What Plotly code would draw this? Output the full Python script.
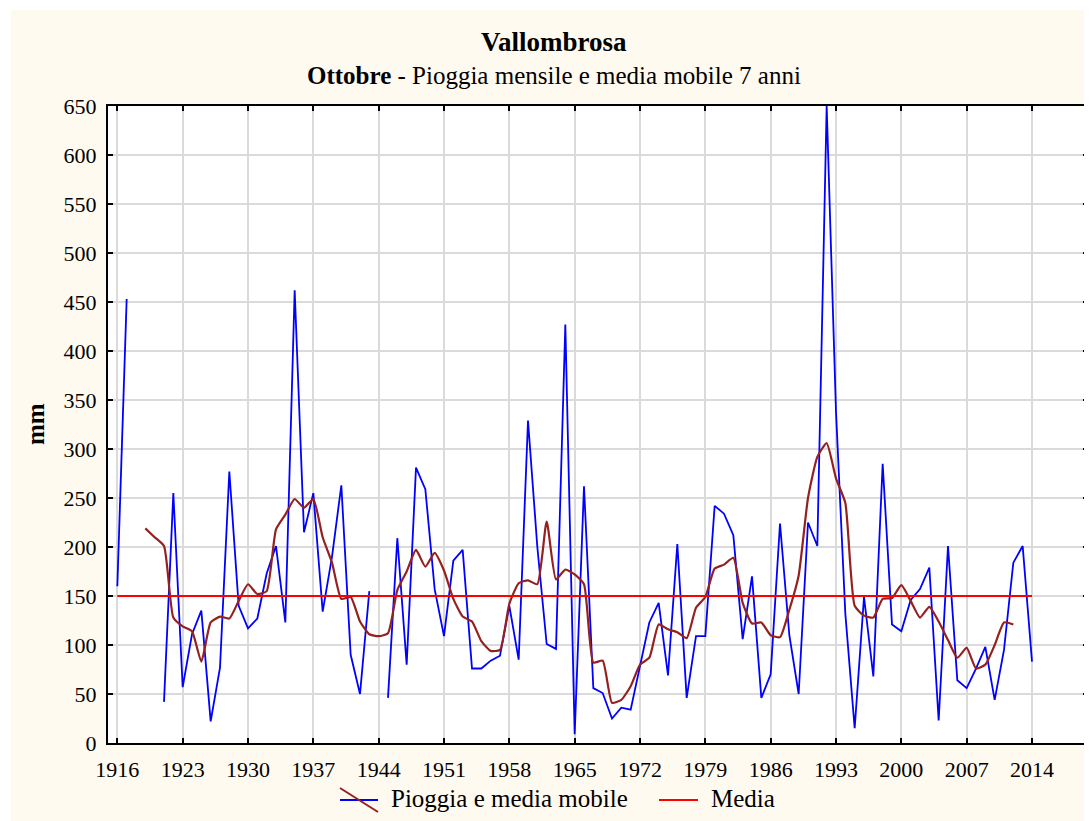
import plotly.graph_objects as go

# Ottobre, Vallombrosa: pioggia mensile (mm), 1916-2014 (None = dato mancante)
anni = list(range(1916, 2015))
pioggia = [
    160, 453, None, None, None, 42, 255, 57, 111, 135,
    22, 77, 277, 140, 117, 127, 173, 201, 123, 462,
    215, 255, 134, 190, 263, 90, 50, 155, None, 46,
    209, 80, 281, 259, 157, 109, 186, 197, 76, 76,
    84, 89, 140, 85, 329, 200, 101, 96, 427, 9,
    262, 56, 51, 25, 36, 34, 78, 123, 143, 69,
    203, 46, 109, 109, 242, 234, 212, 106, 170, 46,
    70, 224, 110, 50, 225, 201, 650, 338, 132, 15,
    149, 68, 285, 121, 114, 146, 157, 179, 23, 201,
    64, 56, 76, 98, 44, 95, 184, 201, 83,
]

# media mobile 7 anni, 1919-2012
anni_mm = list(range(1919, 2013))
media_mobile = [
    219, 210, 201, 128, 119, 114, 83, 123, 129, 127,
    145, 162, 152, 155, 218, 233, 249, 240, 249, 210,
    184, 147, 149, 124, 111, 109, 112, 156, 175, 197,
    180, 194, 176, 147, 129, 124, 104, 94, 95, 142,
    163, 166, 162, 226, 167, 177, 172, 162, 82, 84,
    41, 44, 58, 80, 87, 121, 116, 113, 107, 138,
    149, 178, 182, 189, 143, 122, 123, 110, 108, 136,
    171, 250, 292, 306, 270, 245, 140, 130, 128, 147,
    148, 161, 145, 128, 139, 124, 105, 87, 97, 76,
    80, 100, 123, 121,
]

media = 150
anni_media = [1916, 2014]

x_ticks = list(range(1916, 2015, 7))
y_ticks = list(range(0, 651, 50))

FONT = "Liberation Serif, Times New Roman, serif"
BLU = "#0000FF"
MARRONE = "#952020"
ROSSO = "#FF0000"
CREMA = "#FFFAF0"

# la pagina html ha 8px di margine: il grafico e' spostato di OFF
OFF = 8
W, H = 1092 - OFF, 821 - OFF
L, R, T, B = 100, 4, 98, 78
PW, PH = W - L - R, H - T - B


def px(x):
    # x in pixel della pagina -> coordinate paper
    return (x - OFF - L) / PW


def py(y):
    return (H - B - (y - OFF)) / PH


fig = go.Figure()

fig.add_trace(go.Scatter(x=anni, y=pioggia, mode="lines", connectgaps=False,
                         line=dict(color=BLU, width=1.8), name="Pioggia"))
fig.add_trace(go.Scatter(x=anni_mm, y=media_mobile, mode="lines",
                         line=dict(color=MARRONE, width=2.2, shape="spline", smoothing=0.5),
                         name="Media mobile"))
fig.add_trace(go.Scatter(x=anni_media, y=[media] * len(anni_media), mode="lines",
                         line=dict(color=ROSSO, width=1.8), name="Media"))

asse = dict(showline=True, linewidth=2, linecolor="black", mirror="ticks",
            ticks="inside", ticklen=5, tickwidth=2, tickcolor="black",
            showgrid=True, gridcolor="#DADADA", gridwidth=1.5, zeroline=False,
            tickfont=dict(family=FONT, size=22, color="black"), automargin=False)

fig.update_xaxes(range=[1915, 2020], tickmode="array", tickvals=x_ticks,
                 ticklabelstandoff=6, **asse)
fig.update_yaxes(range=[0, 650], tickmode="array", tickvals=y_ticks,
                 ticklabelstandoff=5, **asse)

annotazioni = [
    dict(text="<b>Vallombrosa</b>", x=px(554), y=py(42), font=dict(size=27)),
    dict(text="<b>Ottobre</b> - Pioggia mensile e media mobile 7 anni",
         x=px(554), y=py(75), font=dict(size=25)),
    dict(text="<b>mm</b>", x=px(35), y=py(424), textangle=-90, font=dict(size=25)),
    dict(text="Pioggia e media mobile", x=px(389), y=py(799), xanchor="left",
         font=dict(size=25)),
    dict(text="Media", x=px(709), y=py(799), xanchor="left", font=dict(size=25)),
]
for a in annotazioni:
    a.setdefault("xanchor", "center")
    a["font"].update(family=FONT, color="black")
    fig.add_annotation(xref="paper", yref="paper", yanchor="middle", showarrow=False, **a)

forme = [
    # sottile bordo bianco in alto e a sinistra
    dict(type="rect", x0=-0.3, x1=1.1, y0=py(10), y1=1.3, fillcolor="white", line_width=0),
    dict(type="rect", x0=-0.3, x1=px(11), y0=-0.3, y1=1.3, fillcolor="white", line_width=0),
    # simboli della legenda
    dict(type="line", x0=px(340), x1=px(378), y0=py(800), y1=py(800),
         line=dict(color=BLU, width=2)),
    dict(type="line", x0=px(340), x1=px(378), y0=py(788), y1=py(812),
         line=dict(color=MARRONE, width=2)),
    dict(type="line", x0=px(659), x1=px(698), y0=py(800), y1=py(800),
         line=dict(color=ROSSO, width=2)),
]
for s in forme:
    fig.add_shape(xref="paper", yref="paper", **s)

fig.update_layout(width=W, height=H, margin=dict(l=L, r=R, t=T, b=B),
                  paper_bgcolor=CREMA, plot_bgcolor="white", showlegend=False,
                  font=dict(family=FONT, color="black"))

fig.write_html("out.html")
